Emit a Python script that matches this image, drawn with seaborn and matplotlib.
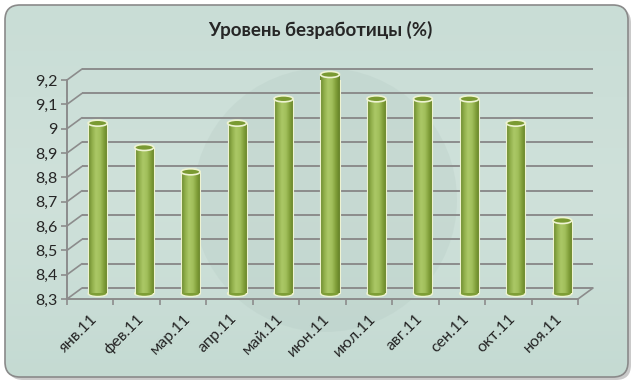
import numpy as np
import seaborn as sns
import matplotlib.pyplot as plt
import matplotlib.colors as mcolors
from matplotlib.patches import FancyBboxPatch, Ellipse, Circle
from matplotlib.ticker import MultipleLocator, FuncFormatter

# data
months = ["янв.11", "фев.11", "мар.11", "апр.11", "май.11", "июн.11",
          "июл.11", "авг.11", "сен.11", "окт.11", "ноя.11"]
rate = [9.0, 8.9, 8.8, 9.0, 9.1, 9.2, 9.1, 9.1, 9.1, 9.0, 8.6]
y_min, y_max = 8.3, 9.2

sns.set_style("white")
plt.rcParams["font.family"] = ["Lato", "DejaVu Sans"]

grid_c = "#8c8c8c"
rim_c = "#eef3d2"
cyl = mcolors.LinearSegmentedColormap.from_list(
    "cyl", ["#68862c", "#90ae4a", "#abc866", "#a2c05c", "#82a03a", "#627f26"])

fig = plt.figure(figsize=(6.4, 3.9), dpi=100)
fig.patch.set_facecolor("white")

# panel with shadow
bg = fig.add_axes([0, 0, 1, 1], zorder=-5)
bg.set_axis_off()
shadow = FancyBboxPatch((0.08, 0.10), 6.23, 3.72,
                        boxstyle="round,pad=0,rounding_size=0.15",
                        transform=fig.dpi_scale_trans, fc="#a8a8a8", ec="none",
                        alpha=0.6, zorder=0)
panel = FancyBboxPatch((0.05, 0.13), 6.23, 3.72,
                       boxstyle="round,pad=0,rounding_size=0.15",
                       transform=fig.dpi_scale_trans, fc="none", ec="#8a8a8a",
                       lw=1.2, zorder=3)
bg.add_patch(shadow)
grad = np.linspace(0, 1, 100)[:, None]
bg_cmap = mcolors.LinearSegmentedColormap.from_list("bg", ["#c9ddd6", "#cfe1da", "#c4dad2"])
im = bg.imshow(grad, extent=[0, 1, 0, 1], cmap=bg_cmap, aspect="auto",
               transform=bg.transAxes, zorder=1)
im.set_clip_path(panel)
bg.add_patch(panel)
# faint watermark disk
bg.add_patch(Circle((3.25, 1.9), 1.32, transform=fig.dpi_scale_trans,
                    fc="#b6cbc4", ec="none", alpha=0.3, zorder=2))
bg.set_xlim(0, 1)
bg.set_ylim(0, 1)

# main axes = front plane
ax = fig.add_axes([67 / 640, 91 / 390, 511 / 640, 219 / 390])
ax.patch.set_alpha(0)

sns.barplot(x=months, y=rate, ax=ax, width=0.41, color="#8cae44", saturation=1)

ax.set_xlim(-0.5, len(months) - 0.5)
ax.set_ylim(y_min, y_max)

# depth offsets (data units)
DX = 15 / (511 / len(months))
DY = 11 / (219 / (y_max - y_min))
x_left, x_right = -0.5, len(months) - 0.5

ticks = np.round(np.arange(y_min, y_max + 0.001, 0.1), 1)
for v in ticks:
    ax.plot([x_left + DX, x_right + DX], [v + DY, v + DY], color=grid_c, lw=1.4,
            clip_on=False, zorder=1, solid_capstyle="butt")
    ax.plot([x_left, x_left + DX], [v, v + DY], color=grid_c, lw=1.2,
            clip_on=False, zorder=1)
ax.plot([x_right, x_right + DX], [y_min, y_min + DY], color=grid_c, lw=1.2,
        clip_on=False, zorder=1)

# cylinders
ell_h = 6 / (219 / (y_max - y_min))
gimg = cyl(np.linspace(0, 1, 64))[None, :, :]
for p, v in zip(ax.patches, rate):
    x0 = p.get_x() + DX / 2
    w = p.get_width()
    y0 = y_min + DY / 2
    p.set_x(x0)
    p.set_y(y0)
    p.set_height(v - y_min)
    p.set_facecolor("none")
    p.set_edgecolor("none")
    top = y0 + v - y_min
    ax.add_patch(Ellipse((x0 + w / 2, y0), w, ell_h, fc="#7e9e36", ec=rim_c,
                         lw=1.0, zorder=2, clip_on=False))
    img = ax.imshow(gimg, extent=[x0, x0 + w, y0, top], aspect="auto", zorder=3,
                    interpolation="bilinear")
    img.set_clip_path(p)
    ax.plot([x0, x0], [y0, top], color=rim_c, lw=0.8, zorder=4)
    ax.plot([x0 + w, x0 + w], [y0, top], color=rim_c, lw=0.8, zorder=4)
    ax.add_patch(Ellipse((x0 + w / 2, top), w, ell_h, fc="#7a9a32", ec=rim_c,
                         lw=1.2, zorder=5, clip_on=False))

ax.set_aspect("auto")
ax.set_xlim(-0.5, len(months) - 0.5)
ax.set_ylim(y_min, y_max)

for s in ["top", "right"]:
    ax.spines[s].set_visible(False)
for s in ["left", "bottom"]:
    ax.spines[s].set_color(grid_c)
    ax.spines[s].set_linewidth(1.4)

ax.yaxis.set_major_locator(MultipleLocator(0.1))
ax.yaxis.set_major_formatter(FuncFormatter(lambda v, _: f"{v:.1f}".rstrip("0").rstrip(".").replace(".", ",")))
ax.tick_params(axis="y", direction="out", length=4, width=1.2, color=grid_c,
               labelsize=11.5, pad=3, left=True)
ax.set_xticks(range(len(months)))
ax.set_xticklabels(months, rotation=45, ha="right", rotation_mode="anchor")
ax.set_xticks(np.arange(-0.5, len(months)), minor=True)
ax.tick_params(axis="x", which="major", length=0, labelsize=11.5, pad=9)
ax.tick_params(axis="x", which="minor", direction="out", length=4, width=1.2,
               color=grid_c, bottom=True)
ax.set_xlabel("")
ax.set_ylabel("")

fig.text(0.5, 1 - 30 / 390, "Уровень безработицы (%)", ha="center", va="center",
         fontsize=13.5, fontweight="bold")

fig.savefig("out.png", dpi=100)
